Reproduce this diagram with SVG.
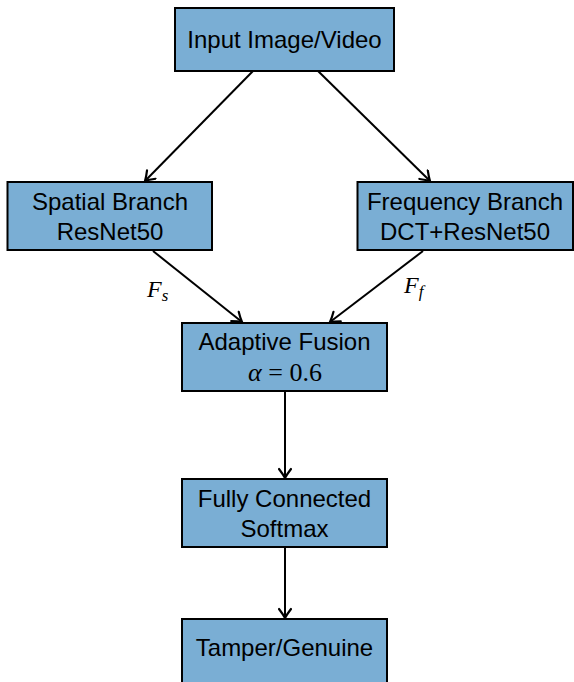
<svg xmlns="http://www.w3.org/2000/svg" width="574" height="682" viewBox="0 0 574 682">
<style>
.box{fill:#7aaed4;stroke:#000;stroke-width:2}
.t{font-family:"Liberation Sans",Arial,sans-serif;font-size:24px;fill:#000;text-anchor:middle}
.m{font-family:"Liberation Serif","Times New Roman",serif;fill:#000}
.c{fill:none;stroke:#000;stroke-width:2}
</style>
<defs>
<marker id="ah" viewBox="-12 -7 14 14" refX="0" refY="0" markerWidth="14" markerHeight="14" markerUnits="userSpaceOnUse" orient="auto">
<path d="M -9,-6 Q -3.5,-1.8 0,0 Q -3.5,1.8 -9,6" fill="none" stroke="#000" stroke-width="2.2" stroke-linecap="round"/>
</marker>
</defs>
<rect width="574" height="682" fill="#fff"/>
<g id="connectors">
<line class="c" x1="253" y1="71" x2="145" y2="181" marker-end="url(#ah)"/>
<line class="c" x1="318" y1="71" x2="430" y2="181" marker-end="url(#ah)"/>
<line class="c" x1="153" y1="251" x2="242" y2="322" marker-end="url(#ah)"/>
<line class="c" x1="423" y1="251" x2="330" y2="322" marker-end="url(#ah)"/>
<line class="c" x1="285" y1="391" x2="285" y2="478" marker-end="url(#ah)"/>
<line class="c" x1="285" y1="547" x2="285" y2="618" marker-end="url(#ah)"/>
<text class="m" x="147" y="297" font-size="24" font-style="italic">F<tspan font-size="17" dy="4">s</tspan></text>
<text class="m" x="404" y="293" font-size="24" font-style="italic">F<tspan font-size="17" dy="4">f</tspan></text>
</g>
<g id="input">
<rect class="box" x="175" y="8" width="219" height="63"/>
<text class="t" x="284.5" y="47.5">Input Image/Video</text>
</g>
<g id="spatial">
<rect class="box" x="7.5" y="182" width="204.5" height="68"/>
<text class="t" x="110" y="210">Spatial Branch</text>
<text class="t" x="110" y="240">ResNet50</text>
</g>
<g id="frequency">
<rect class="box" x="357.5" y="182" width="215.5" height="68"/>
<text class="t" x="465" y="210">Frequency Branch</text>
<text class="t" x="465" y="240">DCT+ResNet50</text>
</g>
<g id="fusion">
<rect class="box" x="182" y="323" width="205" height="68"/>
<text class="t" x="284.5" y="350">Adaptive Fusion</text>
<text class="m" x="285" y="381" font-size="26" text-anchor="middle"><tspan font-style="italic">α</tspan> = 0.6</text>
</g>
<g id="fc">
<rect class="box" x="182" y="479" width="205" height="68"/>
<text class="t" x="284.5" y="507">Fully Connected</text>
<text class="t" x="284.5" y="537">Softmax</text>
</g>
<g id="output">
<rect class="box" x="182" y="619" width="205" height="68"/>
<text class="t" x="284.5" y="656">Tamper/Genuine</text>
</g>
</svg>
